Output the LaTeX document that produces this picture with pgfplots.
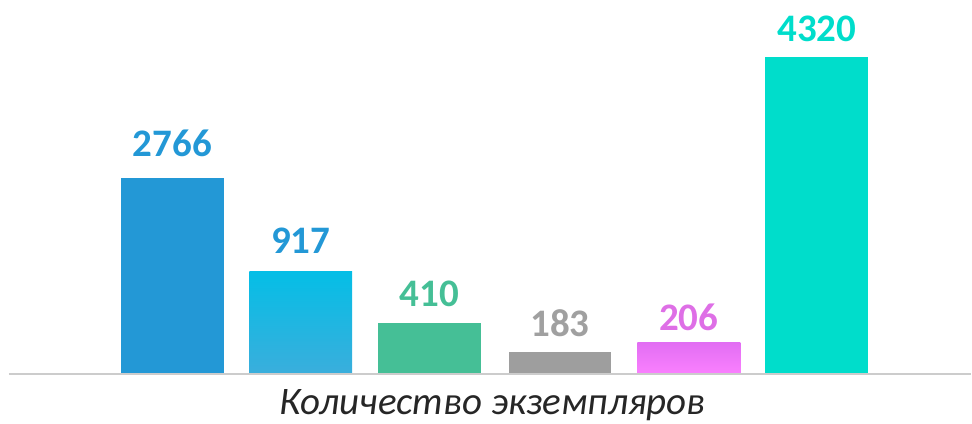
\documentclass[border=0pt]{standalone}
\usepackage{pgfplots}
\pgfplotsset{compat=1.18}
\usepackage{fontspec}
\setmainfont{Carlito}
\definecolor{cA}{HTML}{2398D6}
\definecolor{cBt}{HTML}{05BEE6}
\definecolor{cBb}{HTML}{3AAEDC}
\definecolor{cC}{HTML}{45BF96}
\definecolor{cD}{HTML}{9E9E9E}
\definecolor{cDt}{HTML}{A0A0A0}
\definecolor{cEt}{HTML}{E26EF3}
\definecolor{cEb}{HTML}{FA80FE}
\definecolor{cEl}{HTML}{DE6FE6}
\definecolor{cF}{HTML}{00DDCB}
\definecolor{baseln}{HTML}{CCCCCC}
\definecolor{txt}{HTML}{262626}
\pgfplotsset{
  mybar/.style 2 args={ybar, bar width=103, bar shift=0pt, draw=none,
    point meta=explicit symbolic, nodes near coords,
    every node near coord/.append style={anchor=south, inner sep=0pt,
      font=\fontsize{39}{39}\selectfont\bfseries, text=#1, yshift=#2}},
}
\begin{document}
\begin{tikzpicture}
\begin{axis}[
  width=972pt, height=424pt, scale only axis,
  xmin=0, xmax=972, ymin=-50, ymax=374,
  axis line style={draw=none},
  xtick=\empty, ytick=\empty,
  clip=false,
]
% bar heights in picture units above the baseline; labels are the chart's values
\addplot[mybar={cA}{21pt}, fill=cA] coordinates {(172.5,196) [2766]};
\addplot[mybar={cA}{18pt}, top color=cBt, bottom color=cBb] coordinates {(301,102) [917]};
\addplot[mybar={cC}{16pt}, fill=cC] coordinates {(430,51) [410]};
\addplot[mybar={cDt}{15pt}, fill=cD] coordinates {(560.5,22) [183]};
\addplot[mybar={cEl}{12pt}, top color=cEt, bottom color=cEb] coordinates {(689.5,31) [206]};
\addplot[mybar={cF}{15pt}, fill=cF] coordinates {(817.5,317) [4320]};
\addplot[draw=baseln, line width=1.8pt, mark=none] coordinates {(9,0) (972,0)};
\node[anchor=base, inner sep=0pt, font=\fontsize{39}{39}\selectfont\itshape, text=txt] at (axis cs:493,-41) {Количество экземпляров};
\end{axis}
\end{tikzpicture}
\end{document}
